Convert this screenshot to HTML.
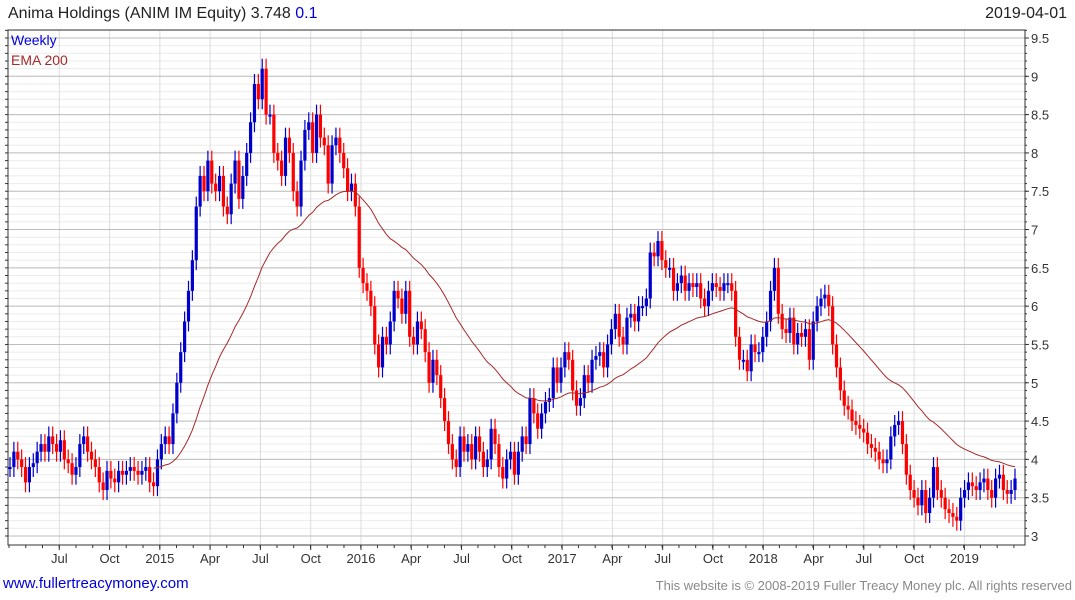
<!DOCTYPE html>
<html><head><meta charset="utf-8"><style>
body{margin:0;width:1075px;height:600px;background:#fff;font-family:"Liberation Sans",sans-serif;overflow:hidden;position:relative}
.t{position:absolute;white-space:nowrap}
</style></head><body>
<div class="t" style="left:8px;top:5px;font-size:16px;color:#222">Anima Holdings (ANIM IM Equity) 3.748 <span style="color:#0000dd">0.1</span></div>
<div class="t" style="right:8px;top:5px;font-size:16px;color:#222">2019-04-01</div>
<div class="t" style="left:3px;top:575px;font-size:15px;color:#0000dd">www.fullertreacymoney.com</div>
<div class="t" style="right:3px;top:578px;font-size:13px;color:#888">This website is © 2008-2019 Fuller Treacy Money plc. All rights reserved</div>
<svg id="c" width="1075" height="600" style="position:absolute;left:0;top:0"></svg>
<script>
const closes=[3.9,4.1,4.0,3.9,3.7,3.9,3.95,4.1,4.2,4.1,4.3,4.2,4.1,4.25,4.0,3.95,3.8,3.9,4.2,4.3,4.1,4.0,3.9,3.7,3.6,3.85,3.75,3.7,3.85,3.8,3.85,3.9,3.85,3.8,3.85,3.9,3.7,
3.65,4.0,4.2,4.3,4.2,4.6,5.0,5.4,5.8,6.2,6.6,7.3,7.7,
7.5,7.9,7.6,7.5,7.7,7.3,7.2,7.6,7.9,7.4,7.7,8.0,
8.4,8.9,8.7,9.1,8.5,8.5,
8.0,7.9,7.7,8.2,8.0,7.5,7.3,7.9,8.3,
8.4,8.0,8.5,8.2,8.1,7.6,8.1,8.2,8.0,7.8,7.5,7.6,7.3,
6.5,6.3,6.2,6.0,5.5,5.2,5.6,5.5,5.8,6.2,6.1,5.9,6.2,
5.6,5.5,5.8,5.7,5.4,5.0,5.3,5.1,4.8,4.5,4.2,4.0,3.9,
4.3,4.1,4.2,4.0,4.3,4.1,3.9,4.0,4.4,4.2,3.9,3.75,4.0,4.1,
3.8,4.1,4.3,4.2,4.8,4.6,4.4,4.6,4.75,4.8,5.2,5.0,
5.2,5.4,5.3,4.9,4.7,4.8,5.1,5.0,5.3,5.35,5.4,5.2,5.5,
5.7,5.9,5.6,5.5,5.85,5.9,5.8,6.0,6.0,6.1,6.7,6.65,6.85,
6.6,6.5,6.5,6.2,6.3,6.4,6.2,6.3,6.25,6.3,6.1,6.0,6.2,
6.3,6.25,6.2,6.3,6.3,6.2,5.6,5.3,5.3,5.15,5.5,5.4,5.4,
5.6,5.8,6.2,6.5,5.9,5.7,5.65,5.85,5.5,5.65,5.6,5.7,5.3,
5.8,6.0,6.1,6.15,6.0,5.5,5.2,4.9,4.7,4.65,4.5,4.45,4.4,4.35,4.2,4.15,4.1,4.0,3.95,4.0,4.3,4.45,4.5,4.2,3.8,3.6,
3.5,3.4,3.6,3.3,3.5,3.9,3.6,3.5,3.35,3.3,3.25,3.2,3.5,3.6,3.7,3.65,3.6,3.7,3.75,3.6,3.5,3.75,3.8,3.6,3.55,3.6,3.75];
const yTicks=[3,3.5,4,4.5,5,5.5,6,6.5,7,7.5,8,8.5,9,9.5];
const xLabels=["Jul","Oct","2015","Apr","Jul","Oct","2016","Apr","Jul","Oct","2017","Apr","Jul","Oct","2018","Apr","Jul","Oct","2019"];
const xLabelWeeks=[13,26,39,52,65,78,91,104,117,130,143,156,169,182,195,208,221,234,247];
const NS='http://www.w3.org/2000/svg',svg=document.getElementById('c');
const L=8,R=1025,T=30,B=545;
const y=v=>536-(v-3)*(498/6.5);
const n=closes.length,x=i=>10+i*(1005/(n-1));
const xw=w=>9+w*3.868;
function el(tag,a,p){const e=document.createElementNS(NS,tag);for(const k in a)e.setAttribute(k,a[k]);(p||svg).appendChild(e);return e;}
for(let v=3;v<=9.65;v+=0.1){const g=el('line',{x1:L,x2:R,y1:y(v),y2:y(v),stroke:'#ebebeb'});
}
xLabelWeeks.forEach((w,k)=>{const g=el('line',{x1:xw(w),x2:xw(w),y1:T,y2:B,stroke:'#dcdcdc'});

const t=el('text',{x:xw(w),y:563,'text-anchor':'middle','font-size':13,fill:'#333'});t.textContent=xLabels[k];

el('line',{x1:xw(w),x2:xw(w),y1:B,y2:B+5,stroke:'#333'});});
for(let i=0;i<262;i+=4.33){el('line',{x1:xw(i),x2:xw(i),y1:B,y2:B+3,stroke:'#333'});}
yTicks.forEach(v=>{const g=el('line',{x1:L,x2:R,y1:y(v),y2:y(v),stroke:'#bdbdbd'});

const t=el('text',{x:R+6,y:y(v)+5,'font-size':13,fill:'#333'});t.textContent=v;

el('line',{x1:R,x2:R+4,y1:y(v),y2:y(v),stroke:'#333'});});
for(let v=3;v<=9.65;v+=0.1){el('line',{x1:R,x2:R+2,y1:y(v),y2:y(v),stroke:'#333'});el('line',{x1:L-3,x2:L,y1:y(v),y2:y(v),stroke:'#333'});}
const fr=el('rect',{x:L,y:T,width:R-L,height:B-T,fill:'none',stroke:'#333'});

for(let i=0;i<n;i++){const c=closes[i],o=i?closes[i-1]:c,up=c>=o,col=up?'#0000cc':'#ff0000';
const g=el('g',{});

el('line',{x1:x(i),x2:x(i),y1:y(Math.max(o,c)+0.13),y2:y(Math.min(o,c)-0.13),stroke:col,'stroke-width':1.2},g);
const top=y(Math.max(o,c)),h=Math.max(2,y(Math.min(o,c))-top);
el('rect',{x:x(i)-1.6,y:top,width:3.2,height:h,fill:col},g);}
let e=closes[0],pts=[];const a=2/41;
for(let i=0;i<n;i++){e=a*closes[i]+(1-a)*e;if(i>=37)pts.push(x(i).toFixed(1)+','+y(e).toFixed(1));}
const ema=el('polyline',{points:pts.join(' '),fill:'none',stroke:'#a52a2a','stroke-width':1});

const t1=el('text',{x:11,y:45,'font-size':14,fill:'#0000dd'});t1.textContent='Weekly';

const t2=el('text',{x:11,y:65,'font-size':14,fill:'#a52a2a'});t2.textContent='EMA 200';

</script></body></html>
